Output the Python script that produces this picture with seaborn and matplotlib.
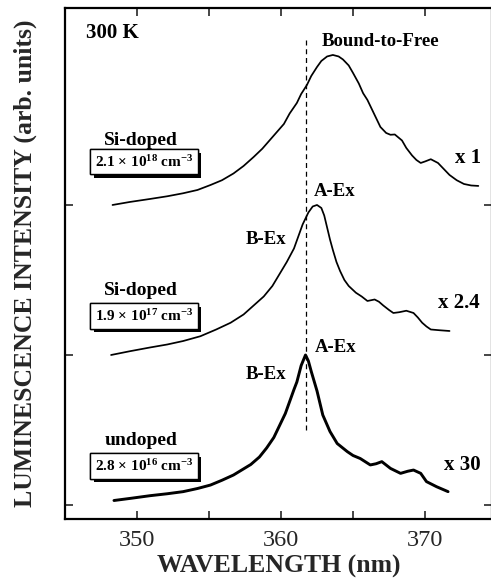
import numpy as np
import pandas as pd
import matplotlib
matplotlib.use("Agg")
import matplotlib.pyplot as plt
import matplotlib.patheffects as pe
from matplotlib.ticker import MultipleLocator, FuncFormatter
import seaborn as sns

# ---------------- data ----------------
wl_high = [348.3, 349.5, 350.9, 352.1, 353.2, 354.2, 355.1, 355.9, 356.7, 357.4,
           358.1, 358.7, 359.2, 359.7, 360.2, 360.6, 361.1, 361.4, 361.8, 362.1,
           362.5, 362.8, 363.2, 363.6, 364.0, 364.3, 364.7, 365.0, 365.4, 365.7,
           366.0, 366.4, 366.9, 367.3, 367.6, 367.9, 368.4, 368.7, 369.1, 369.4,
           369.7, 370.0, 370.4, 370.9, 371.3, 371.7, 372.2, 372.7, 373.2, 373.7]
int_high = [0.00, 0.02, 0.04, 0.058, 0.078, 0.10, 0.133, 0.165, 0.21, 0.26,
            0.32, 0.375, 0.43, 0.485, 0.54, 0.61, 0.68, 0.74, 0.80, 0.86,
            0.92, 0.96, 0.99, 1.00, 0.99, 0.97, 0.93, 0.88, 0.81, 0.745,
            0.70, 0.62, 0.52, 0.48, 0.468, 0.47, 0.43, 0.38, 0.33, 0.30,
            0.28, 0.29, 0.305, 0.28, 0.24, 0.20, 0.165, 0.14, 0.13, 0.127]

wl_mid = [348.2, 349.5, 350.9, 352.1, 353.2, 354.4, 355.5, 356.5, 357.4, 358.1,
          358.8, 359.4, 359.9, 360.4, 360.9, 361.2, 361.5, 361.9, 362.2, 362.5,
          362.8, 363.0, 363.2, 363.4, 363.6, 363.85, 364.1, 364.4, 364.7, 365.2,
          365.6, 366.0, 366.5, 366.8, 367.1, 367.5, 367.8, 368.2, 368.7, 369.2,
          369.5, 369.8, 370.1, 370.4, 371.0, 371.7]
int_mid = [0.00, 0.025, 0.05, 0.07, 0.093, 0.125, 0.17, 0.215, 0.27, 0.33,
           0.39, 0.46, 0.54, 0.62, 0.71, 0.79, 0.87, 0.95, 0.99, 1.00,
           0.98, 0.93, 0.85, 0.77, 0.70, 0.62, 0.56, 0.50, 0.46, 0.415,
           0.39, 0.36, 0.37, 0.355, 0.33, 0.30, 0.28, 0.285, 0.295, 0.28,
           0.25, 0.215, 0.19, 0.17, 0.165, 0.16]

wl_und = [348.4, 349.6, 350.9, 352.1, 353.2, 354.2, 355.1, 355.9, 356.7, 357.3,
          357.9, 358.5, 359.0, 359.5, 359.9, 360.3, 360.6, 360.9, 361.1, 361.4,
          361.7, 361.9, 362.1, 362.5, 362.9, 363.4, 363.9, 364.6, 365.0, 365.5,
          366.2, 366.6, 367.0, 367.6, 368.3, 368.8, 369.2, 369.7, 370.1, 370.8,
          371.6]
int_und = [0.03, 0.045, 0.062, 0.075, 0.089, 0.11, 0.133, 0.165, 0.20, 0.235,
           0.27, 0.32, 0.38, 0.45, 0.53, 0.61, 0.69, 0.77, 0.82, 0.93,
           1.00, 0.96, 0.89, 0.76, 0.60, 0.49, 0.41, 0.356, 0.33, 0.31,
           0.267, 0.275, 0.289, 0.244, 0.211, 0.225, 0.233, 0.211, 0.156, 0.122,
           0.089]

samples = ["undoped", "Si-doped", "Si-doped"]
densities = [r"2.8 × 10$^{\mathbf{16}}$ cm$^{\mathbf{-3}}$",
             r"1.9 × 10$^{\mathbf{17}}$ cm$^{\mathbf{-3}}$",
             r"2.1 × 10$^{\mathbf{18}}$ cm$^{\mathbf{-3}}$"]
scale_labels = ["x 30", "x 2.4", "x 1"]
offsets = [0, 1, 2]
xticks_major = [350, 360, 370]
exciton_line_wl = 361.74

# ---------------- style ----------------
sns.set_theme(style="ticks")
plt.rcParams["font.family"] = ["Liberation Serif", "DejaVu Serif"]
plt.rcParams["mathtext.fontset"] = "custom"
plt.rcParams["mathtext.rm"] = "Liberation Serif:bold"
plt.rcParams["mathtext.bf"] = "Liberation Serif:bold"
plt.rcParams["mathtext.default"] = "bf"
plt.rcParams["lines.solid_joinstyle"] = "round"
plt.rcParams["lines.solid_capstyle"] = "round"

fig = plt.figure(figsize=(4.91, 5.83), dpi=100)
ax = fig.add_axes([65 / 491, 64 / 583, 427 / 491, 511 / 583])

curves = [(wl_und, int_und), (wl_mid, int_mid), (wl_high, int_high)]
lws = [2.1, 1.25, 1.25]
for (wl, it), off, lw in zip(curves, offsets, lws):
    df = pd.DataFrame({"wl": wl, "I": np.asarray(it) + off})
    sns.lineplot(data=df, x="wl", y="I", ax=ax, color="black", lw=lw,
                 sort=False, estimator=None, solid_joinstyle="round")

ax.plot([exciton_line_wl, exciton_line_wl], [0.5, 3.11], color="black",
        lw=0.9, ls=(0, (4, 3)))

ax.set_xlim(345, 374.65)
ax.set_ylim(-0.0933, 3.313)
ax.set_yticks(offsets)
ax.set_yticklabels([])
ax.xaxis.set_major_locator(MultipleLocator(5))
ax.xaxis.set_major_formatter(FuncFormatter(
    lambda v, p: f"{int(round(v))}" if int(round(v)) in xticks_major else ""))
ax.tick_params(direction="in", length=6, width=1.2, top=True, right=True,
               labelsize=17.5, pad=8)
for s in ax.spines.values():
    s.set_linewidth(1.6)
    s.set_color("black")

ax.set_xlabel("WAVELENGTH (nm)", fontsize=18.5, fontweight="bold", labelpad=3)
ax.set_ylabel("LUMINESCENCE INTENSITY (arb. units)", fontsize=18.5,
              fontweight="bold", labelpad=12)

# ---------------- annotations ----------------
bold = dict(fontweight="bold", ha="center", va="center", color="black")
ax.text(348.26, 3.147, "300 K", fontsize=15, **bold)
ax.text(366.94, 3.087, "Bound-to-Free", fontsize=13.5, **bold)
for (x, y) in [(363.75, 2.093), (363.82, 1.053)]:
    ax.text(x, y, "A-Ex", fontsize=13.5, **bold)
for (x, y) in [(358.96, 1.767), (358.96, 0.867)]:
    ax.text(x, y, "B-Ex", fontsize=13.5, **bold)

name_y = [0.433, 1.433, 2.433]
box_y = [0.26, 1.26, 2.287]
scale_pos = [(372.57, 0.267), (372.36, 1.347), (372.99, 2.313)]
for i in range(3):
    ax.text(350.28, name_y[i], samples[i], fontsize=14, **bold)
    t = ax.text(350.5, box_y[i], densities[i], fontsize=11,
                bbox=dict(boxstyle="square,pad=0.3", fc="white", ec="black", lw=1),
                **bold)
    t.get_bbox_patch().set_path_effects([
        pe.withSimplePatchShadow(offset=(2.5, -2.5), shadow_rgbFace="black", alpha=1.0),
        pe.Normal()])
    ax.text(scale_pos[i][0], scale_pos[i][1], scale_labels[i], fontsize=15, **bold)

fig.savefig("out.png", dpi=100)
